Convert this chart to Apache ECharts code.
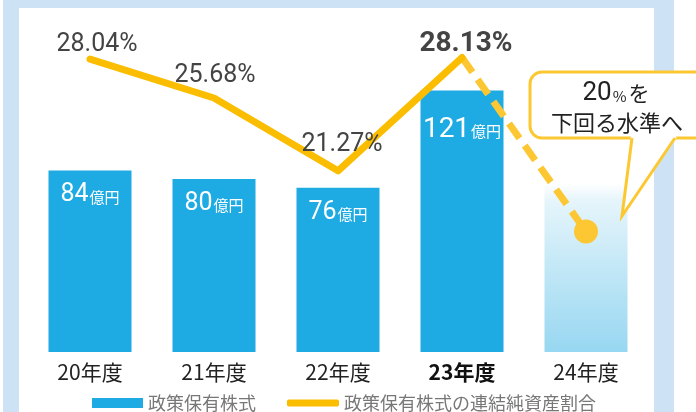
<!DOCTYPE html>
<html>
<head>
<meta charset="utf-8">
<script src="https://cdn.jsdelivr.net/npm/echarts@6/dist/echarts.min.js"></script>
<style>
  html, body { margin: 0; padding: 0; background: #fff; }
  #chart { width: 696px; height: 412px; }
</style>
</head>
<body>
<div id="chart"></div>
<script>
// 年度
var years = ['20年度', '21年度', '22年度', '23年度', '24年度'];
// 政策保有株式（億円）、24年度は目標イメージ
var holdings = [84, 80, 76, 121];
var holdingsTarget = 78;
// 連結純資産割合（%）
var ratio = [28.04, 25.68, 21.27, 28.13];
var ratioTarget = 17.6;

var BLUE = '#1eaae2';
var GOLD = '#fbbd00';
var GOLD_LIGHT = '#fdc733';
var CJK = '"Noto Sans CJK JP", sans-serif';

var chart = echarts.init(document.getElementById('chart'));

// bar data
var barData = holdings.map(function (v, i) {
  var last = i === holdings.length - 1;
  return {
    value: v,
    label: {
      distance: last ? 25 : 12,
      rich: {
        n: { fontSize: last ? 28 : 25, color: '#fff', fontFamily: 'Roboto' },
        u: { fontSize: 15, color: '#fff', fontFamily: CJK, padding: [4, 0, 0, 1] }
      }
    }
  };
});
barData.push({
  value: holdingsTarget,
  label: { show: false },
  itemStyle: {
    color: new echarts.graphic.LinearGradient(0, 0, 0, 1, [
      { offset: 0, color: '#ffffff' },
      { offset: 0.1, color: '#e6f5fb' },
      { offset: 1, color: '#97d7f1' }
    ])
  }
});

// line label offsets (px from the point)
var labelOffsets = [[7, -14], [1, -22], [4, -26], [4, -14]];
var lineData = ratio.map(function (v, i) {
  var last = i === ratio.length - 1;
  return {
    value: v,
    label: {
      offset: labelOffsets[i],
      fontSize: last ? 28 : 25,
      fontWeight: last ? 'bold' : 'normal',
      fontFamily: last ? 'Roboto' : '"Liberation Sans Narrow", Roboto'
    }
  };
});
lineData.push(null);

var dashData = [null, null, null, { value: ratio[3], symbol: 'none' },
  { value: ratioTarget, symbol: 'circle', symbolSize: 24 }];

var option = {
  backgroundColor: '#fff',
  animation: false,
  grid: { left: 28, right: 48, top: 30, bottom: 60 },
  xAxis: {
    type: 'category',
    data: years.map(function (y, i) {
      return i === 3 ? { value: y, textStyle: { fontWeight: 'bold', color: '#111' } } : y;
    }),
    axisLine: { show: false },
    axisTick: { show: false },
    axisLabel: { fontSize: 21, color: '#222', margin: 10, fontFamily: CJK }
  },
  yAxis: [
    { type: 'value', min: 0, max: 149, show: false },
    { type: 'value', min: 10.3, max: 29.8, show: false }
  ],
  legend: [
    {
      left: 92, top: 394, padding: 0,
      itemWidth: 51, itemHeight: 10,
      textStyle: { fontSize: 18, color: '#777', fontFamily: CJK },
      data: [{ name: '政策保有株式', icon: 'rect' }]
    },
    {
      left: 287, top: 394, padding: 0,
      itemWidth: 52, itemHeight: 7,
      textStyle: { fontSize: 18, color: '#777', fontFamily: CJK },
      data: [{ name: '政策保有株式の連結純資産割合', icon: 'roundRect', itemStyle: { color: GOLD } }]
    }
  ],
  graphic: [
    { type: 'rect', z: -10, shape: { x: 3, y: 0, width: 671, height: 412 }, style: { fill: '#cde3f5' } },
    { type: 'rect', z: -9, shape: { x: 19, y: 8, width: 635, height: 404 }, style: { fill: '#fff' } },
    // callout box
    {
      type: 'rect', z: 100,
      shape: { x: 530, y: 72, width: 190, height: 66, r: 12 },
      style: { fill: '#fff', stroke: '#fcc832', lineWidth: 3 }
    },
    {
      type: 'polygon', z: 101,
      shape: { points: [[632, 135], [675, 135], [676.5, 138], [622, 216], [630.5, 138]] },
      style: { fill: '#fff' }
    },
    {
      type: 'polyline', z: 102,
      shape: { points: [[632, 138], [622, 216], [675, 138]] },
      style: { stroke: '#fcc832', lineWidth: 3, fill: null }
    },
    {
      type: 'text', z: 103, x: 616, y: 93,
      style: {
        text: '{a|20}{b|%}{c|を}',
        align: 'center', verticalAlign: 'middle',
        rich: {
          a: { fontSize: 26, fill: '#222', fontFamily: 'Roboto' },
          b: { fontSize: 15, fill: '#222', fontFamily: CJK, padding: [6, 2, 0, 1] },
          c: { fontSize: 21, fill: '#222', fontFamily: CJK }
        }
      }
    },
    {
      type: 'text', z: 103, x: 617, y: 123,
      style: {
        text: '下回る水準へ', fontSize: 22, fill: '#222', fontFamily: CJK,
        align: 'center', verticalAlign: 'middle'
      }
    }
  ],
  series: [
    {
      name: '政策保有株式',
      type: 'bar',
      barWidth: 83,
      itemStyle: { color: BLUE },
      label: {
        show: true,
        position: 'insideTop',
        formatter: function (p) { return '{n|' + p.value + '}{u|億円}'; }
      },
      data: barData
    },
    {
      name: '政策保有株式の連結純資産割合',
      type: 'line',
      yAxisIndex: 1,
      color: GOLD,
      symbol: 'circle',
      symbolSize: 4,
      itemStyle: { color: GOLD },
      lineStyle: { width: 7, color: GOLD, cap: 'round', join: 'round' },
      label: {
        show: true,
        position: 'inside',
        color: '#444',
        formatter: function (p) { return p.value.toFixed(2) + '%'; }
      },
      z: 3,
      data: lineData
    },
    {
      name: 'target',
      type: 'line',
      yAxisIndex: 1,
      itemStyle: { color: GOLD_LIGHT },
      lineStyle: { width: 7, color: GOLD_LIGHT, type: [18, 9], cap: 'butt' },
      z: 2,
      data: dashData
    }
  ]
};
chart.setOption(option);
</script>
</body>
</html>
